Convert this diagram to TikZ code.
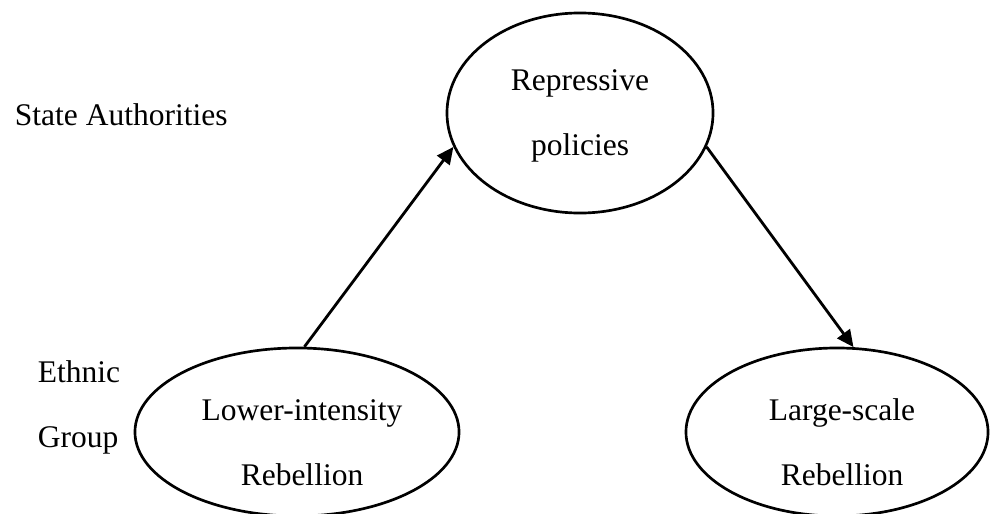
\documentclass[tikz,border=0pt]{standalone}
\usepackage{fontspec}
\setmainfont{Liberation Serif}
\usetikzlibrary{arrows.meta,shapes.geometric}
\tikzset{>/.tip={Triangle[length=12pt,width=11pt]}}

\begin{document}
\begin{tikzpicture}[x=0.025cm,y=-0.025cm,
  oval/.style={draw,ellipse,line width=1.9pt,inner sep=0pt},
  txt/.style={align=center,anchor=base,font=\fontsize{22.4}{46.2}\selectfont},
  side/.style={anchor=base west,font=\fontsize{22.4}{26}\selectfont}]
\useasboundingbox (0,0) rectangle (990,513);
\node[oval,minimum width=6.65cm,minimum height=5cm] (rep) at (580,113) {};
\node[oval,minimum width=8.1cm,minimum height=4.2cm] (low) at (297,432) {};
\node[oval,minimum width=7.55cm,minimum height=4.2cm] (large) at (837,432) {};

\node[txt] (rep-t) at (580,155) {Repressive\\policies};
\node[txt] (low-t) at (302,485) {Lower-intensity\\Rebellion};
\node[txt] (large-t) at (842,485) {Large-scale\\Rebellion};

\node[side] (state) at (10,125) {State Authorities};
\node[side] (ethnic) at (33,382) {Ethnic};
\node[side] (group) at (33,447) {Group};

\draw[->,line width=2pt] (low.85) -- (rep.195);
\draw[->,line width=2pt] (rep.-15) -- (large.79);
\end{tikzpicture}
\end{document}
